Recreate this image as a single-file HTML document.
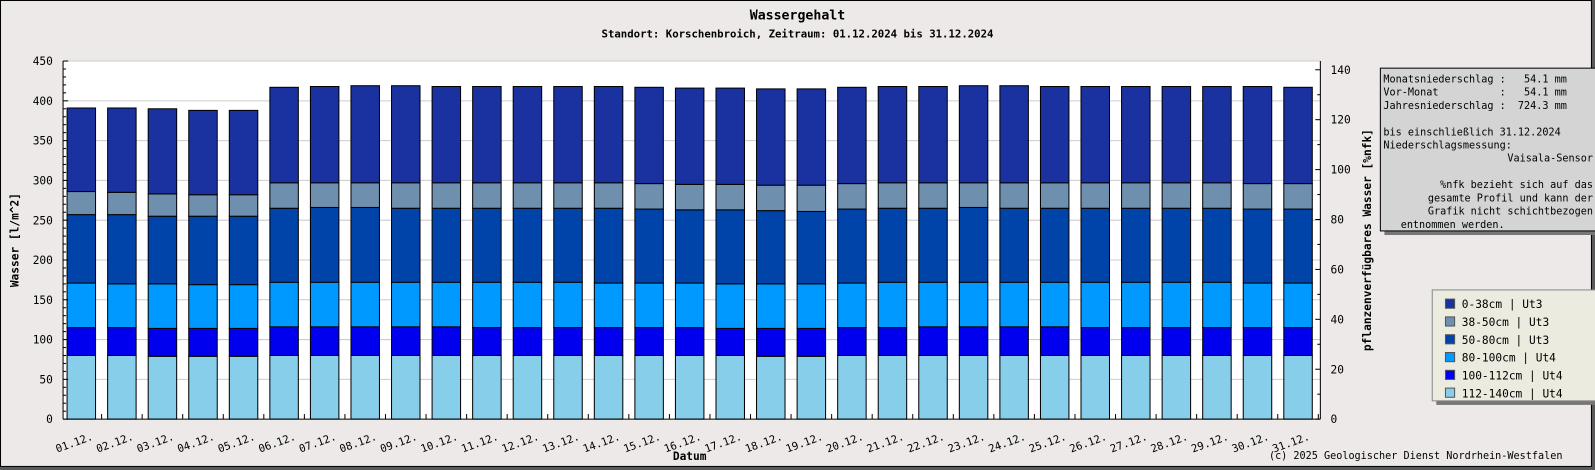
<!DOCTYPE html>
<html><head><meta charset="utf-8"><style>
body{margin:0;background:#ece9e8;width:1595px;height:470px;overflow:hidden}
svg{display:block}
text{font-family:"DejaVu Sans Mono","Liberation Mono",monospace}
</style></head><body>
<svg id="chart" width="1595" height="470" viewBox="0 0 1568 462" preserveAspectRatio="none">
<rect x="0" y="0" width="1568" height="462" fill="#5a5a5a"/>
<rect x="0.5" y="0.5" width="1564" height="458" fill="#ece9e8" stroke="#000" stroke-width="1"/>
<text x="784" y="19" text-anchor="middle" font-size="13" font-weight="bold">Wassergehalt</text>
<text x="784" y="37" text-anchor="middle" font-size="10.5" font-weight="bold">Standort: Korschenbroich, Zeitraum: 01.12.2024 bis 31.12.2024</text>
<rect x="62" y="60" width="1236" height="352" fill="#fff"/>
<g id="grid"></g><g id="bars"></g><g id="axes"></g>
<text transform="translate(18,236) rotate(-90)" text-anchor="middle" font-size="11" font-weight="bold">Wasser [l/m^2]</text>
<text transform="translate(1348,236) rotate(-90)" text-anchor="middle" font-size="11" font-weight="bold">pflanzenverfügbares Wasser [%nfk]</text>
<text x="678" y="452" text-anchor="middle" font-size="11" font-weight="bold">Datum</text>
<text x="1536" y="451" text-anchor="end" font-size="10">(c) 2025 Geologischer Dienst Nordrhein-Westfalen</text>
<g>
<rect x="1361" y="71" width="213" height="160" fill="#777"/>
<rect x="1357" y="67" width="213" height="160" fill="#d4d4d4" stroke="#000"/>
<g font-size="10">
<text x="1360" y="81" xml:space="preserve">Monatsniederschlag :   54.1 mm</text>
<text x="1360" y="94" xml:space="preserve">Vor-Monat          :   54.1 mm</text>
<text x="1360" y="107" xml:space="preserve">Jahresniederschlag :  724.3 mm</text>
<text x="1360" y="133">bis einschließlich 31.12.2024</text>
<text x="1360" y="146">Niederschlagsmessung:</text>
<text x="1566" y="159" text-anchor="end">Vaisala-Sensor</text>
<text x="1566" y="185" text-anchor="end">%nfk bezieht sich auf das</text>
<text x="1566" y="198" text-anchor="end">gesamte Profil und kann der</text>
<text x="1566" y="211" text-anchor="end">Grafik nicht schichtbezogen</text>
<text x="1377" y="224">entnommen werden.</text>
</g></g>
<g id="legend">
<rect x="1412" y="289" width="162" height="109" fill="#777"/>
<rect x="1408" y="285" width="162" height="109" fill="#ecebe0" stroke="#888"/>
</g>
</svg>
<script>
const days=["01.12.","02.12.","03.12.","04.12.","05.12.","06.12.","07.12.","08.12.","09.12.","10.12.","11.12.","12.12.","13.12.","14.12.","15.12.","16.12.","17.12.","18.12.","19.12.","20.12.","21.12.","22.12.","23.12.","24.12.","25.12.","26.12.","27.12.","28.12.","29.12.","30.12.","31.12."];
const layerNames=["112-140cm | Ut4","100-112cm | Ut4","80-100cm | Ut4","50-80cm | Ut3","38-50cm | Ut3","0-38cm | Ut3"];
const layerColors=["#87ceeb","#0000ee","#0099ff","#0044aa","#6f8faf","#1a32a0"];
const l112=[80,80,79,79,79,80,80,80,80,80,80,80,80,80,80,80,80,79,79,80,80,80,80,80,80,80,80,80,80,80,80];
const l100=[35,35,35,35,35,36,36,36,36,36,35,35,35,35,35,35,34,35,35,35,35,36,36,36,36,35,35,35,35,35,35];
const l80=[56,55,56,55,55,56,56,56,56,56,57,57,57,56,56,56,56,56,56,56,57,56,56,56,56,57,57,57,57,56,56];
const l50=[86,87,85,86,86,93,94,94,93,93,93,93,93,94,93,92,93,92,91,93,93,93,94,93,93,93,93,93,93,93,93];
const l38=[29,28,28,27,27,32,31,31,32,32,32,32,32,32,32,32,32,32,33,32,32,32,31,32,32,32,32,32,32,32,32];
const l0=[105,106,107,106,106,120,121,122,122,121,121,121,121,121,121,121,121,121,121,121,121,121,122,122,121,121,121,121,121,122,121];
const layers=[l112,l100,l80,l50,l38,l0];
const yTicks=[0,50,100,150,200,250,300,350,400,450];
const y2Ticks=[0,20,40,60,80,100,120,140];
const NS="http://www.w3.org/2000/svg";
const X0=62,X1=1298,Y0=412,Y1=60;
const y=v=>Y0-(v/450)*(Y0-Y1);
const y2=v=>Y0-(v/143.5)*(Y0-Y1);
const bw=(X1-X0)/days.length;
const xc=i=>X0+bw*(i+0.5)-2;
function mk(p,tag,at){const e=document.createElementNS(NS,tag);for(const k in at)e.setAttribute(k,at[k]);p.appendChild(e);return e;}
const grid=document.getElementById('grid'),bars=document.getElementById('bars'),axes=document.getElementById('axes');
yTicks.forEach(t=>{if(t>0){const g=mk(grid,'line',{x1:X0,x2:X1,y1:y(t),y2:y(t),stroke:'#cccccc'});

}
const tx=mk(axes,'text',{x:X0-10,y:y(t)+4,'text-anchor':'end','font-size':'11'});tx.textContent=t;

});
for(let v=0;v<=450;v+=10){mk(axes,'line',{x1:X0,x2:X0+(v%50?3:5),y1:y(v),y2:y(v),stroke:'#000'});}
y2Ticks.forEach(t=>{const tx=mk(axes,'text',{x:X1+10,y:y2(t)+4,'font-size':'11'});tx.textContent=t;

});
for(let v=0;v<=140;v+=10){mk(axes,'line',{x1:X1-(v%20?3:5),x2:X1,y1:y2(v),y2:y2(v),stroke:'#000'});}
days.forEach((d,i)=>{let acc=0;
layers.forEach((L,j)=>{const r=mk(bars,'rect',{x:xc(i)-14,width:28,y:y(acc+L[i]),height:y(acc)-y(acc+L[i]),fill:layerColors[j],stroke:'#000','stroke-width':1});

acc+=L[i];});
mk(axes,'line',{x1:X0+bw*(i+1)-2,x2:X0+bw*(i+1)-2,y1:Y0,y2:Y0-5,stroke:'#000'});
const tx=mk(axes,'text',{transform:`translate(${xc(i)+12},${Y0+20}) rotate(-20)`,'text-anchor':'end','font-size':'10.5'});tx.textContent=d;

});
mk(axes,'line',{x1:X0,x2:X0,y1:Y1,y2:Y0,stroke:'#000'});
mk(axes,'line',{x1:X1,x2:X1,y1:Y1,y2:Y0,stroke:'#000'});
mk(axes,'line',{x1:X0,x2:X1,y1:Y0,y2:Y0,stroke:'#000'});
const lg=document.getElementById('legend');
for(let k=0;k<6;k++){const j=5-k;const yy=294+k*17.5;
const s=mk(lg,'rect',{x:1421,y:yy,width:9,height:9,fill:layerColors[j],stroke:'#555'});


const t=mk(lg,'text',{x:1437,y:yy+9,'font-size':'11','font-family':'"DejaVu Sans","Liberation Sans",sans-serif'});t.textContent=layerNames[j];

}
</script>
</body></html>
